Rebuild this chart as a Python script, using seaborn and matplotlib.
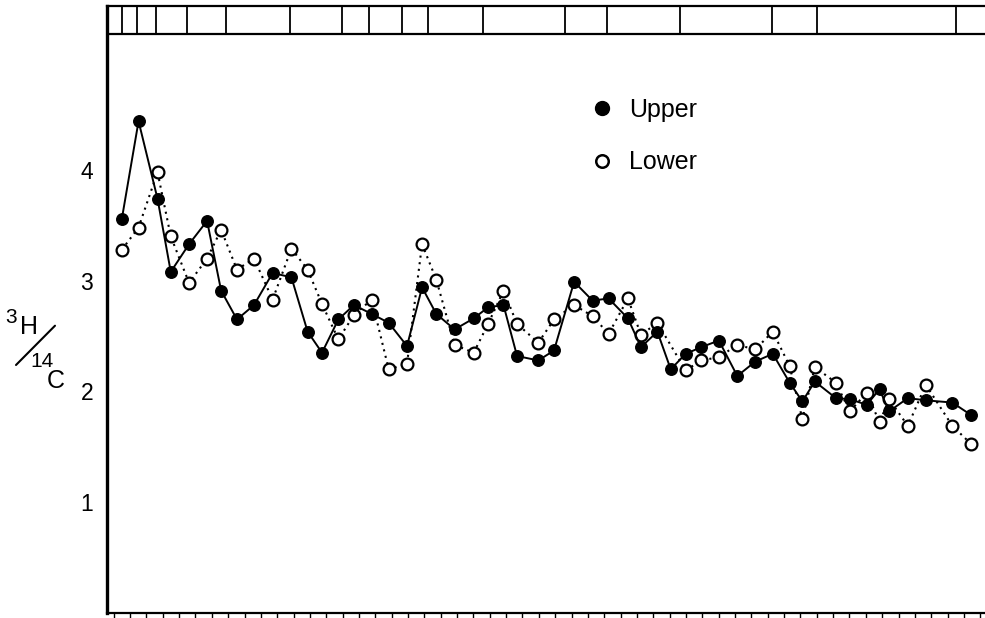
import numpy as np
import pandas as pd
import matplotlib
matplotlib.use("Agg")
import matplotlib.pyplot as plt
from matplotlib.lines import Line2D
import seaborn as sns

# ---- data ----
# sample positions along the column (units = bottom tick spacing)
positions = [-0.5, 0.52, 1.68, 2.49, 3.61, 4.71, 5.57, 6.54, 7.58, 8.72,
             9.87, 10.86, 11.74, 12.74, 13.69, 14.78, 15.82, 16.94, 17.86, 18.73,
             19.85, 21.02, 21.90, 22.84, 23.67, 24.97, 25.93, 27.16, 28.29, 29.27,
             30.45, 31.25, 32.25, 33.07, 33.98, 34.94, 36.01, 37.14, 38.24, 39.31,
             40.34, 41.12, 41.88, 43.17, 44.02, 45.06, 45.84, 46.42, 47.57, 48.67,
             50.29, 51.41]
upper = [3.56, 4.44, 3.74, 3.08, 3.33, 3.54, 2.91, 2.65, 2.78, 3.07,
         3.03, 2.54, 2.35, 2.65, 2.78, 2.70, 2.62, 2.41, 2.94, 2.70,
         2.56, 2.66, 2.76, 2.78, 2.32, 2.28, 2.37, 2.99, 2.82, 2.84,
         2.66, 2.40, 2.54, 2.20, 2.34, 2.40, 2.46, 2.14, 2.27, 2.34,
         2.08, 1.91, 2.09, 1.94, 1.93, 1.88, 2.02, 1.82, 1.94, 1.92,
         1.90, 1.79]
lower = [3.28, 3.48, 3.98, 3.40, 2.98, 3.20, 3.46, 3.10, 3.20, 2.83,
         3.29, 3.10, 2.79, 2.47, 2.69, 2.83, 2.20, 2.25, 3.33, 3.01,
         2.42, 2.35, 2.61, 2.91, 2.61, 2.44, 2.65, 2.78, 2.68, 2.52,
         2.84, 2.51, 2.62, np.nan, 2.19, 2.28, 2.31, 2.42, 2.38, 2.54,
         2.23, 1.75, 2.22, 2.08, 1.82, 1.99, 1.72, 1.93, 1.69, 2.06,
         1.69, 1.53]
# boundaries of the segments shown in the strip along the top
segment_bounds = [-0.51, 0.41, 1.59, 3.50, 5.87, 9.79, 12.95, 14.64, 16.62,
                  18.24, 21.57, 26.61, 29.16, 33.64, 39.25, 42.04, 50.52]
y_ticks = [1, 2, 3, 4]
series_names = ["Upper", "Lower"]

df = pd.DataFrame({"pos": positions, "Upper": upper, "Lower": lower})
df_up = df[["pos", "Upper"]].dropna()
df_lo = df[["pos", "Lower"]].dropna()

# ---- style ----
sns.set_style("white")
plt.rcParams['font.family'] = ['Liberation Sans', 'DejaVu Sans']
plt.rcParams['text.color'] = 'black'
plt.rcParams['axes.labelcolor'] = 'black'
plt.rcParams['xtick.color'] = 'black'
plt.rcParams['ytick.color'] = 'black'

W, H = 985, 618
fig = plt.figure(figsize=(W / 100, H / 100), dpi=100)
ax = fig.add_axes([107 / W, 5 / H, 1 - 107 / W, 607 / H])

sns.lineplot(data=df_lo, x="pos", y="Lower", ax=ax, color="black",
             lw=1.5, linestyle=(0, (1, 2.2)), marker="o", markersize=8.5,
             markerfacecolor="white", markeredgecolor="black",
             markeredgewidth=1.6, errorbar=None, sort=False, zorder=3,
             clip_on=False)
sns.lineplot(data=df_up, x="pos", y="Upper", ax=ax, color="black",
             lw=1.4, marker="o", markersize=8.3, markerfacecolor="black",
             markeredgecolor="black", markeredgewidth=1.0,
             errorbar=None, sort=False, zorder=4, clip_on=False)

ax.set_xlim(-1.41, 52.29)
ax.set_ylim(0, 5.48)

# top strip
ax.axhline(5.23, color="black", lw=1.6, zorder=5)
ax.vlines(segment_bounds, 5.23, 5.48, color="black", lw=1.3, zorder=5)

# spines
for s in ["left", "bottom", "top"]:
    ax.spines[s].set_visible(True)
    ax.spines[s].set_color("black")
ax.spines["right"].set_visible(False)
ax.spines["left"].set_linewidth(2.4)
ax.spines["bottom"].set_linewidth(1.6)
ax.spines["top"].set_linewidth(1.6)

ax.set_xticks(np.arange(-1, 53))
ax.tick_params(axis="x", direction="out", length=5, width=1.0,
               labelbottom=False, bottom=True, color="black")
ax.set_yticks(y_ticks)
ax.set_yticklabels([str(t) for t in y_ticks])
ax.tick_params(axis="y", length=0, pad=10, labelsize=16.5, labelcolor="black")
ax.set_xlabel("")
ax.set_ylabel("")

# legend
handles = [Line2D([], [], ls="none", marker="o", color="black", markersize=10),
           Line2D([], [], ls="none", marker="o", markerfacecolor="white",
                  markeredgecolor="black", markeredgewidth=1.8, markersize=9)]
leg = ax.legend(handles, series_names, loc="center left",
                bbox_to_anchor=(589 / W, 1 - 136 / H),
                bbox_transform=fig.transFigure, frameon=False,
                handlelength=1.0, handletextpad=0.6, labelspacing=1.15,
                borderpad=0, borderaxespad=0, fontsize=18,
                labelcolor="black")

# y label  3H / 14C
def px(x, y):
    return x / W, 1 - y / H

fig.text(*px(11.5, 323), "3", fontsize=15, ha="center", va="baseline", color="black")
fig.text(*px(29, 334.5), "H", fontsize=18, ha="center", va="baseline", color="black")
fig.text(*px(41.7, 367), "14", fontsize=15, ha="center", va="baseline", color="black")
fig.text(*px(55.5, 388), "C", fontsize=18, ha="center", va="baseline", color="black")
x0, y0 = px(16, 365)
x1, y1 = px(55, 325.7)
fig.add_artist(Line2D([x0, x1], [y0, y1], transform=fig.transFigure,
                      color="black", lw=1.5))

fig.savefig("out.png", dpi=100)
